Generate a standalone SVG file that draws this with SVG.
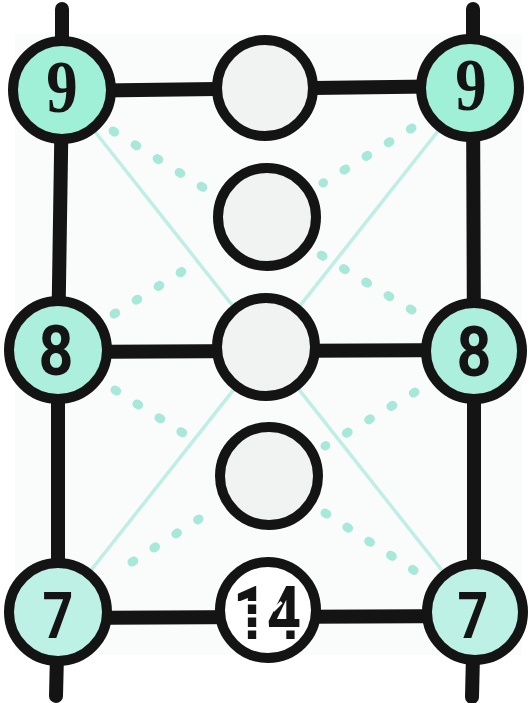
<svg xmlns="http://www.w3.org/2000/svg" width="531" height="703" viewBox="0 0 531 703">
<style>
.bar{stroke:#141414;stroke-width:14;stroke-linecap:round;stroke-linejoin:round;fill:none}
.ring{stroke:#141414;stroke-width:10}
.x{stroke:#bfeee5;stroke-width:3.5;fill:none}
.dot{stroke:#a7e8d9;stroke-width:9;stroke-linecap:round;stroke-dasharray:2 24}
.empty{fill:#f0f3f2}
.f9{fill:#9ff0d6}
.f8{fill:#abefdc}
.f7{fill:#bdf1e5}
.num{font-weight:700;fill:#141414;text-anchor:middle}
</style>
<defs>
<mask id="gaps" maskUnits="userSpaceOnUse" x="200" y="555" width="140" height="110">
<rect x="200" y="555" width="140" height="110" fill="#fff"/>
<rect x="228" y="601" width="34" height="3.5" fill="#000"/>
<rect x="228" y="614" width="32" height="3.5" fill="#000"/>
<rect x="228" y="627" width="80" height="3.5" fill="#000"/>
<rect x="271" y="605" width="12" height="3" fill="#000" transform="rotate(-45 277 606)"/>
</mask>
</defs>
<rect x="0" y="0" width="531" height="703" fill="#ffffff"/>
<rect x="15" y="34" width="507" height="621" fill="#fafbfb"/>

<g id="connectors">
<line class="x" x1="62" y1="90" x2="475" y2="612"/>
<line class="x" x1="472" y1="88" x2="58" y2="612"/>
<line class="dot" x1="113" y1="131" x2="204" y2="188"/>
<line class="dot" x1="114" y1="314" x2="202" y2="259"/>
<line class="dot" x1="115" y1="390" x2="202" y2="445"/>
<line class="dot" x1="132" y1="562" x2="199" y2="519"/>
<line class="dot" x1="412" y1="128" x2="323" y2="183"/>
<line class="dot" x1="412" y1="310" x2="321" y2="255"/>
<line class="dot" x1="415" y1="392" x2="325" y2="446"/>
<line class="dot" x1="325" y1="513" x2="415" y2="571"/>
<polyline class="bar" points="62,9 62,90 58,350 58,612 56,696"/>
<polyline class="bar" points="473,9 473,88 474,351 474,612 472,697"/>
<line class="bar" x1="62" y1="91" x2="470" y2="86"/>
<line class="bar" x1="58" y1="352" x2="474" y2="350"/>
<line class="bar" x1="58" y1="618" x2="475" y2="616"/>
</g>

<g id="n9L"><circle class="ring f9" cx="62" cy="90" r="49"/><text class="num" font-family="Liberation Serif, serif" font-size="74" transform="translate(62,90) scale(0.85,1)" x="0" y="22">9</text></g>
<g id="c1"><circle class="ring empty" cx="265" cy="88" r="48"/></g>
<g id="n9R"><circle class="ring f9" cx="470" cy="88" r="49"/><text class="num" font-family="Liberation Serif, serif" font-size="74" transform="translate(471,88) scale(0.85,1)" x="0" y="22">9</text></g>
<g id="c2"><circle class="ring empty" cx="267" cy="217" r="49"/></g>
<g id="n8L"><circle class="ring f8" cx="58" cy="350" r="49"/><text class="num" font-family="Roboto, sans-serif" font-size="70" transform="translate(56,350) scale(0.87,1)" x="0" y="25">8</text></g>
<g id="c3"><circle class="ring empty" cx="266" cy="347" r="49"/></g>
<g id="n8R"><circle class="ring f8" cx="474" cy="351" r="48"/><text class="num" font-family="Roboto, sans-serif" font-size="70" transform="translate(474,351) scale(0.87,1)" x="0" y="25">8</text></g>
<g id="c4"><circle class="ring empty" cx="269" cy="476" r="49"/></g>
<g id="n7L"><circle class="ring f7" cx="58" cy="612" r="49"/><text class="num" font-family="Roboto, sans-serif" font-size="64" transform="translate(58,612) scale(0.84,1)" x="0" y="26">7</text></g>
<g id="c5"><circle class="ring" fill="#ffffff" cx="268" cy="610" r="48"/><g mask="url(#gaps)"><text class="num" font-family="Roboto, sans-serif" font-size="74" transform="translate(267,610) scale(0.8,1)" x="0" y="29">14</text></g></g>
<g id="n7R"><circle class="ring f7" cx="475" cy="612" r="48"/><text class="num" font-family="Roboto, sans-serif" font-size="64" transform="translate(473,612) scale(0.84,1)" x="0" y="26">7</text></g>
</svg>
